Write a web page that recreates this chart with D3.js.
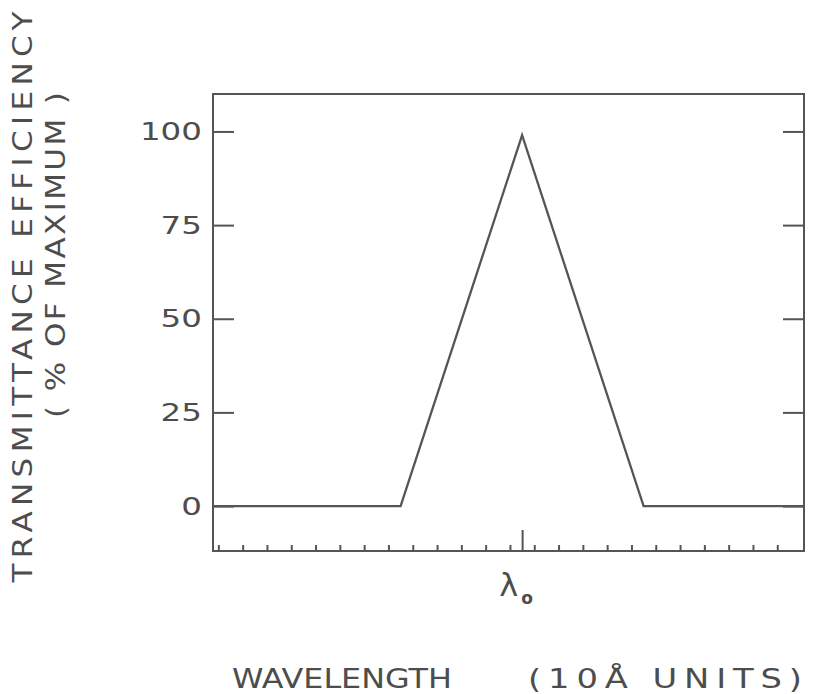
<!DOCTYPE html>
<html>
<head>
<meta charset="utf-8">
<script src="https://cdn.jsdelivr.net/npm/d3@7"></script>
<style>
  body { margin: 0; background: #fff; }
  svg text { font-family: "DejaVu Sans", sans-serif; fill: #4d4d4d; }
  .axis path, .axis line { stroke: #555; stroke-width: 2; }
</style>
</head>
<body>
<svg width="822" height="694"></svg>
<script>
/* wavelength offset from lambda-o, in 10 A units */
var wavelength = [-12.72, -5, 0, 5, 11.6];
/* transmittance, % of maximum */
var transmittance = [0, 0, 99, 0, 0];

var yTicks = [0, 25, 50, 75, 100];
var minorTicks = [-12.5, -11.5, -10.5, -9.5, -8.5, -7.5, -6.5, -5.5, -4.5, -3.5, -2.5, -1.5, -0.5,
                  0.5, 1.5, 2.5, 3.5, 4.5, 5.5, 6.5, 7.5, 8.5, 9.5, 10.5];
var majorTicks = [0];

var svg = d3.select("svg"),
    margin = {top: 94, right: 18, bottom: 143, left: 213},
    width = +svg.attr("width") - margin.left - margin.right,
    height = +svg.attr("height") - margin.top - margin.bottom;

var x = d3.scaleLinear().domain([-12.72, 11.6]).range([0, width]),
    y = d3.scaleLinear().domain([-12, 110]).range([height, 0]);

// the lettering in the original is a wide, round face: stretch it sideways
var numStretch = 1.3;

var g = svg.append("g")
    .attr("transform", "translate(" + margin.left + "," + margin.top + ")");

/* frame */
g.append("rect")
    .attr("width", width)
    .attr("height", height)
    .attr("fill", "none")
    .attr("stroke", "#555")
    .attr("stroke-width", 2);

/* left axis with labels, ticks pointing in */
g.append("g")
    .attr("class", "axis")
    .call(d3.axisLeft(y).tickValues(yTicks).tickSizeInner(-21).tickSizeOuter(0).tickPadding(8.5))
    .call(function (a) { a.select(".domain").remove(); })
    .selectAll("text")
    .attr("font-size", 25)
    .attr("transform", "scale(" + numStretch + ",1)");

/* right axis, ticks only */
g.append("g")
    .attr("class", "axis")
    .attr("transform", "translate(" + width + ",0)")
    .call(d3.axisRight(y).tickValues(yTicks).tickSizeInner(-21).tickSizeOuter(0).tickFormat(""))
    .call(function (a) { a.select(".domain").remove(); });

/* bottom minor ticks */
g.append("g")
    .attr("class", "axis")
    .attr("transform", "translate(0," + height + ")")
    .call(d3.axisBottom(x).tickValues(minorTicks).tickSizeInner(-6).tickSizeOuter(0).tickFormat(""))
    .call(function (a) { a.select(".domain").remove(); });

/* bottom major tick at lambda-o */
g.append("g")
    .attr("class", "axis")
    .attr("transform", "translate(0," + height + ")")
    .call(d3.axisBottom(x).tickValues(majorTicks).tickSizeInner(-21).tickSizeOuter(0).tickFormat(""))
    .call(function (a) { a.select(".domain").remove(); });

var lam = g.append("text")
    .attr("x", x(majorTicks[0]) - 6)
    .attr("y", height + 45)
    .attr("text-anchor", "middle")
    .attr("font-size", 32);
lam.append("tspan").text("λ");
lam.append("tspan")
    .attr("dx", 3)
    .attr("dy", 8)
    .attr("font-size", 17)
    .attr("font-weight", "bold")
    .text("o");

/* transmittance curve */
var line = d3.line()
    .x(function (d, i) { return x(wavelength[i]); })
    .y(function (d) { return y(d); });

g.append("path")
    .datum(transmittance)
    .attr("fill", "none")
    .attr("stroke", "#555")
    .attr("stroke-width", 2.3)
    .attr("stroke-linejoin", "miter")
    .attr("d", line);

/* axis titles */
function title(tx, ty, rot, anchor, size, stretch, len, s) {
    svg.append("text")
        .attr("transform", "translate(" + tx + "," + ty + ")rotate(" + rot + ")scale(" + stretch + ",1)")
        .attr("text-anchor", anchor)
        .attr("font-size", size)
        .attr("textLength", len / stretch)
        .attr("lengthAdjust", "spacing")
        .text(s);
}

title(32, 297, -90, "middle", 27, 1.15, 571, "TRANSMITTANCE  EFFICIENCY");
title(65, 255, -90, "middle", 27, 1.15, 326, "( % OF MAXIMUM )");
title(232, 688, 0, "start", 27, 1.18, 220, "WAVELENGTH");
title(528, 688, 0, "start", 27, 1.25, 274, "(10Å  UNITS)");
</script>
</body>
</html>
